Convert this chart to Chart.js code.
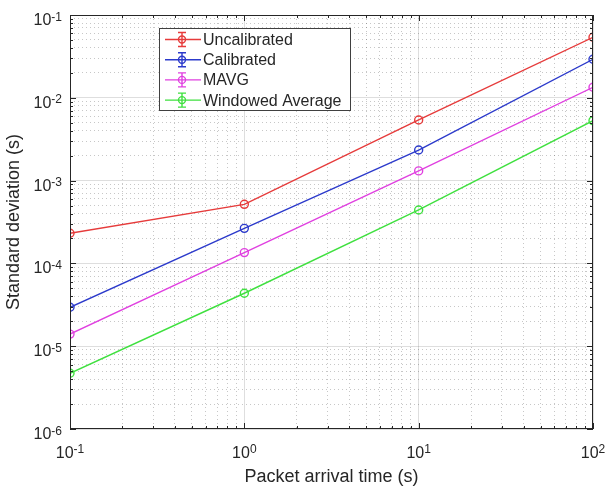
<!DOCTYPE html>
<html>
<head>
<meta charset="utf-8">
<script src="https://cdn.jsdelivr.net/npm/chart.js@4.4.0/dist/chart.umd.min.js"></script>
<style>
  html, body { margin: 0; background: #fff; }
  #wrap { width: 608px; height: 489px; }
</style>
</head>
<body>
<div id="wrap"><canvas id="grafica"></canvas></div>
<script>
// Packet arrival time (s) and measured standard deviation (s) per method
const arrivalTimes = [0.1, 1, 10, 100];
const uncalibrated = [2.31e-4, 5.17e-4, 5.4e-3, 5.38e-2];
const calibrated = [2.95e-5, 2.65e-4, 2.34e-3, 2.92e-2];
const mavg = [1.4e-5, 1.35e-4, 1.31e-3, 1.34e-2];
const windowedAvg = [4.71e-6, 4.36e-5, 4.42e-4, 5.29e-3];

const seriesNames = ["Uncalibrated", "Calibrated", "MAVG", "Windowed Average"];
const seriesColors = ["#e63b3b", "#2c3acb", "#e040e0", "#3fe03f"];

// decade exponents used for tick labels
const xDecades = [-1, 0, 1, 2];
const yDecades = [-6, -5, -4, -3, -2, -1];

const FONT = '"Liberation Sans", Arial, Helvetica, sans-serif';
const TEXT = "#262626";

function logTicks(decades) {
    let out = [];
    decades.forEach((e, i) => {
        if (i === decades.length - 1) { out.push({ value: Math.pow(10, e) }); return; }
        for (let m = 1; m < 10; m++) out.push({ value: m * Math.pow(10, e) });
    });
    return out;
}

function isDecade(v) {
    let l = Math.log10(v);
    return Math.abs(l - Math.round(l)) < 1e-9;
}

function gridOpts() {
    return {
        color: c => isDecade(c.tick.value) ? "rgba(0,0,0,0.13)" : "rgba(0,0,0,0.22)",
        lineWidth: 1,
        drawTicks: false
    };
}

function borderOpts() {
    return {
        display: false,
        dash: c => isDecade(c.tick.value) ? [] : [1, 3]
    };
}

// box around the axes, inward tick marks, power-of-ten labels and the legend
const axesDecor = {
    id: "axesDecor",
    afterDraw(chart) {
        const { ctx, chartArea: a, scales: { x, y } } = chart;
        ctx.save();
        ctx.strokeStyle = TEXT;
        ctx.lineWidth = 1;

        // inward ticks on all four sides
        ctx.beginPath();
        x.ticks.forEach(t => {
            let px = Math.round(x.getPixelForValue(t.value)) + 0.5;
            let len = isDecade(t.value) ? 6 : 3;
            ctx.moveTo(px, a.bottom); ctx.lineTo(px, a.bottom - len);
            ctx.moveTo(px, a.top); ctx.lineTo(px, a.top + len);
        });
        y.ticks.forEach(t => {
            let py = Math.round(y.getPixelForValue(t.value)) + 0.5;
            let len = isDecade(t.value) ? 6 : 3;
            ctx.moveTo(a.left, py); ctx.lineTo(a.left + len, py);
            ctx.moveTo(a.right, py); ctx.lineTo(a.right - len, py);
        });
        ctx.stroke();
        ctx.strokeRect(Math.round(a.left) + 0.5, Math.round(a.top) + 0.5,
            Math.round(a.width) - 1, Math.round(a.height) - 1);

        // tick labels as 10 with a raised exponent
        ctx.fillStyle = TEXT;
        ctx.textBaseline = "alphabetic";
        ctx.textAlign = "left";
        const baseFont = "16px " + FONT, supFont = "12px " + FONT;
        yDecades.forEach(e => {
            let py = y.getPixelForValue(Math.pow(10, e));
            let exp = String(e);
            ctx.font = baseFont; let w1 = ctx.measureText("10").width;
            ctx.font = supFont; let w2 = ctx.measureText(exp).width;
            let right = a.left - 8;
            ctx.font = baseFont; ctx.fillText("10", right - w1 - w2, py + 10);
            ctx.font = supFont; ctx.fillText(exp, right - w2, py + 5.5);
        });
        xDecades.forEach(e => {
            let px = x.getPixelForValue(Math.pow(10, e));
            let exp = String(e);
            ctx.font = baseFont; let w1 = ctx.measureText("10").width;
            ctx.font = supFont; let w2 = ctx.measureText(exp).width;
            let left = px - (w1 + w2) / 2;
            ctx.font = baseFont; ctx.fillText("10", left, a.bottom + 29);
            ctx.font = supFont; ctx.fillText(exp, left + w1, a.bottom + 24);
        });

        // legend
        const lx = a.left + 89, ly = a.top + 13, lw = 191, lh = 82;
        ctx.fillStyle = "#fff";
        ctx.fillRect(lx, ly, lw, lh);
        ctx.strokeStyle = "#404040";
        ctx.strokeRect(lx + 0.5, ly + 0.5, lw, lh);
        chart.data.datasets.forEach((ds, i) => {
            let cy = ly + 11.5 + i * 20.2;
            let mx = lx + 23;
            ctx.strokeStyle = ds.borderColor;
            ctx.lineWidth = 1.4;
            ctx.beginPath();
            ctx.moveTo(lx + 6, cy); ctx.lineTo(lx + 42, cy);
            ctx.moveTo(mx, cy - 7); ctx.lineTo(mx, cy + 7);
            ctx.moveTo(mx - 4, cy - 7); ctx.lineTo(mx + 4, cy - 7);
            ctx.moveTo(mx - 4, cy + 7); ctx.lineTo(mx + 4, cy + 7);
            ctx.stroke();
            ctx.beginPath();
            ctx.arc(mx, cy, 3.5, 0, Math.PI * 2);
            ctx.stroke();
            ctx.fillStyle = TEXT;
            ctx.font = "16px " + FONT;
            ctx.textBaseline = "middle";
            ctx.fillText(ds.label, lx + 44, cy + 1);
        });
        ctx.restore();
    }
};

const allSeries = [uncalibrated, calibrated, mavg, windowedAvg];

let ctx = document.getElementById("grafica").getContext("2d");
new Chart(ctx, {
    type: "scatter",
    data: {
        datasets: allSeries.map((vals, i) => ({
            label: seriesNames[i],
            data: arrivalTimes.map((t, k) => ({ x: t, y: vals[k] })),
            showLine: true,
            borderColor: seriesColors[i],
            backgroundColor: "rgba(255,255,255,0)",
            borderWidth: 1.4,
            pointRadius: 4,
            pointBorderWidth: 1.4,
            pointBackgroundColor: "rgba(255,255,255,0)",
            pointBorderColor: seriesColors[i]
        }))
    },
    options: {
        responsive: true,
        maintainAspectRatio: false,
        animation: false,
        layout: { padding: { top: 15, right: 15, left: 0, bottom: 0 } },
        plugins: { legend: { display: false }, tooltip: { enabled: false } },
        scales: {
            x: {
                type: "logarithmic",
                min: 0.1,
                max: 100,
                afterBuildTicks: s => { s.ticks = logTicks(xDecades); },
                afterFit: s => { s.height = 60; },
                grid: gridOpts(),
                border: borderOpts(),
                ticks: { display: false, autoSkip: false },
                title: {
                    display: true,
                    text: "Packet arrival time (s)",
                    color: TEXT,
                    font: { family: FONT, size: 18 },
                    padding: { top: 0, bottom: 1 }
                }
            },
            y: {
                type: "logarithmic",
                min: 1e-6,
                max: 1e-1,
                afterBuildTicks: s => { s.ticks = logTicks(yDecades); },
                afterFit: s => { s.width = 70; },
                grid: gridOpts(),
                border: borderOpts(),
                ticks: { display: false, autoSkip: false },
                title: {
                    display: true,
                    text: "Standard deviation (s)",
                    color: TEXT,
                    font: { family: FONT, size: 18 },
                    padding: { top: 3, bottom: 0 }
                }
            }
        }
    },
    plugins: [axesDecor]
});
</script>
</body>
</html>
